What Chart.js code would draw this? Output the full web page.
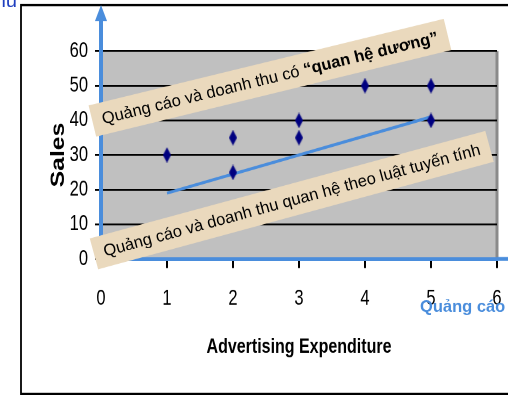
<!DOCTYPE html>
<html>
<head>
<meta charset="utf-8">
<title>Sales vs Advertising Expenditure</title>
<script src="https://cdn.jsdelivr.net/npm/chart.js@4"></script>
<style>
  html { overflow: hidden; background: #fff; }
  body { margin: 0; padding: 0; width: 508px; height: 395px; }
  /* chart is laid out short and stretched tall, like the old spreadsheet export */
  #salesChart { display: block; transform: scaleY(1.29934); transform-origin: 0 0; }
</style>
</head>
<body>
<canvas id="salesChart" width="508" height="304"></canvas>
<script>
// Observed points: advertising spend vs sales
const adSpend = [1, 2, 2, 3, 3, 4, 5, 5];
const sales = [30, 35, 25, 40, 35, 50, 50, 40];

// Trend line endpoints
const trendSpend = [1, 5];
const trendSales = [19, 41];

const xTickValues = [0, 1, 2, 3, 4, 5, 6];
const yTickValues = [0, 10, 20, 30, 40, 50, 60];

const STRETCH = 395 / 304;
const axisBlue = '#4a8ddc';
const plainFont = '"Liberation Sans", Arial, sans-serif';

// Tall narrow diamond for the markers
function makeDiamond(w, h, color) {
    const c = document.createElement('canvas');
    c.width = w;
    c.height = h;
    const g = c.getContext('2d');
    g.fillStyle = color;
    g.beginPath();
    g.moveTo(w / 2, 0);
    g.lineTo(w, h / 2);
    g.lineTo(w / 2, h);
    g.lineTo(0, h / 2);
    g.closePath();
    g.fill();
    return c;
}

// Rotated callout box; undoes the vertical stretch so it stays a true rectangle
function drawNote(ctx, cx, cy, angle, parts, size) {
    const r = angle * Math.PI / 180;
    const cos = Math.cos(r), sin = Math.sin(r);
    ctx.save();
    ctx.translate(cx, cy);
    ctx.transform(cos, sin / STRETCH, -sin, cos / STRETCH, 0, 0);
    let total = 0;
    const widths = parts.map(([t, b]) => {
        ctx.font = (b ? 'bold ' : '') + size + 'px ' + plainFont;
        const w = ctx.measureText(t).width;
        total += w;
        return w;
    });
    const padX = 10, h = 32;
    const w = total + padX * 2;
    ctx.fillStyle = '#ead9bd';
    ctx.fillRect(-w / 2, -h / 2, w, h);
    ctx.fillStyle = '#000';
    ctx.textBaseline = 'middle';
    let x = -w / 2 + padX;
    parts.forEach(([t, b], i) => {
        ctx.font = (b ? 'bold ' : '') + size + 'px ' + plainFont;
        ctx.fillText(t, x, 1);
        x += widths[i];
    });
    ctx.restore();
}

// Plain text that should not be stretched
function drawFlatText(ctx, text, x, y, font, color, align) {
    ctx.save();
    ctx.scale(1, 1 / STRETCH);
    ctx.font = font;
    ctx.fillStyle = color;
    ctx.textAlign = align;
    ctx.textBaseline = 'alphabetic';
    ctx.fillText(text, x, y * STRETCH);
    ctx.restore();
}

const backdrop = {
    id: 'backdrop',
    beforeDraw(chart) {
        const { ctx, chartArea: a } = chart;
        ctx.save();
        // outer frame
        ctx.strokeStyle = '#000';
        ctx.lineWidth = 1.8;
        ctx.strokeRect(21, 5 / STRETCH, 500, 389 / STRETCH);
        // plot fill
        ctx.fillStyle = '#c0c0c0';
        ctx.fillRect(a.left, a.top, a.right - a.left, a.bottom - a.top);
        ctx.strokeStyle = '#8a8a8a';
        ctx.lineWidth = 3;
        ctx.beginPath();
        ctx.moveTo(a.right, a.top);
        ctx.lineTo(a.right, a.bottom);
        ctx.stroke();
        ctx.restore();
        // heading text running off the corner
        drawFlatText(ctx, 'Doanh thu', 17, 7 / STRETCH, '20px ' + plainFont, '#1f3fbf', 'right');
    }
};

const overlays = {
    id: 'overlays',
    afterDraw(chart) {
        const { ctx, chartArea: a } = chart;
        const xs = chart.scales.x, ys = chart.scales.y;
        ctx.save();
        // axis extensions and arrowhead
        ctx.strokeStyle = axisBlue;
        ctx.fillStyle = axisBlue;
        ctx.lineWidth = 4;
        ctx.beginPath();
        ctx.moveTo(a.left, a.top);
        ctx.lineTo(a.left, 20 / STRETCH);
        ctx.stroke();
        ctx.lineWidth = 3;
        ctx.beginPath();
        ctx.moveTo(a.right, a.bottom);
        ctx.lineTo(chart.width + 2, a.bottom);
        ctx.stroke();
        ctx.beginPath();
        ctx.moveTo(a.left, 5 / STRETCH);
        ctx.lineTo(a.left + 6, 21 / STRETCH);
        ctx.lineTo(a.left - 6, 21 / STRETCH);
        ctx.closePath();
        ctx.fill();
        ctx.restore();

        drawNote(ctx, xs.getPixelForValue(2.56), ys.getPixelForValue(52.3), -13.7,
            [['Quảng cáo và doanh thu có ', false], ['“quan hệ dương”', true]], 16.5);
        drawNote(ctx, xs.getPixelForValue(2.89), ys.getPixelForValue(17), -15.2,
            [['Quảng cáo và doanh thu quan hệ theo luật tuyến tính', false]], 16.5);

        drawFlatText(ctx, 'Quảng cáo', 420, 312 / STRETCH, 'bold 16.5px ' + plainFont, axisBlue, 'left');
    }
};

new Chart(document.getElementById('salesChart'), {
    type: 'scatter',
    data: {
        datasets: [
            {
                label: 'Sales',
                data: adSpend.map((v, i) => ({ x: v, y: sales[i] })),
                pointStyle: makeDiamond(8, 12, '#000080'),
                pointRadius: 6
            },
            {
                label: 'Trend',
                data: trendSpend.map((v, i) => ({ x: v, y: trendSales[i] })),
                showLine: true,
                borderColor: axisBlue,
                borderWidth: 2.4,
                pointRadius: 0
            }
        ]
    },
    options: {
        responsive: false,
        animation: false,
        devicePixelRatio: 2,
        layout: { padding: { top: 39.3, right: 11, left: 0, bottom: 0 } },
        plugins: {
            legend: { display: false },
            tooltip: { enabled: false }
        },
        scales: {
            x: {
                type: 'linear',
                min: 0,
                max: 6,
                afterFit: s => {
                    s.height = 104.7;
                    s.paddingLeft = 0;
                    s.paddingRight = 0;
                },
                afterBuildTicks: s => { s.ticks = xTickValues.map(v => ({ value: v })); },
                ticks: {
                    color: '#000',
                    padding: 14,
                    font: { family: plainFont, size: 16.5 }
                },
                grid: { drawOnChartArea: false, tickLength: 7, color: '#000', lineWidth: 2 },
                border: { color: axisBlue, width: 3 },
                title: {
                    display: true,
                    text: 'Advertising Expenditure',
                    color: '#000',
                    padding: { top: 0, bottom: 27.4 },
                    font: { family: plainFont, size: 16, weight: 'bold' }
                }
            },
            y: {
                min: 0,
                max: 60,
                afterFit: s => {
                    s.width = 101;
                    s.paddingTop = 0;
                    s.paddingBottom = 0;
                },
                afterBuildTicks: s => { s.ticks = yTickValues.map(v => ({ value: v })); },
                ticks: {
                    color: '#000',
                    padding: 7,
                    font: { family: plainFont, size: 16.5 }
                },
                grid: { color: '#000', lineWidth: 1.4, tickLength: 6 },
                border: { color: axisBlue, width: 4 },
                title: {
                    display: true,
                    text: 'Sales',
                    color: '#000',
                    padding: { top: 47.5, bottom: 0 },
                    font: { family: plainFont, size: 19, weight: 'bold' }
                }
            }
        }
    },
    plugins: [backdrop, overlays]
});
</script>
</body>
</html>
